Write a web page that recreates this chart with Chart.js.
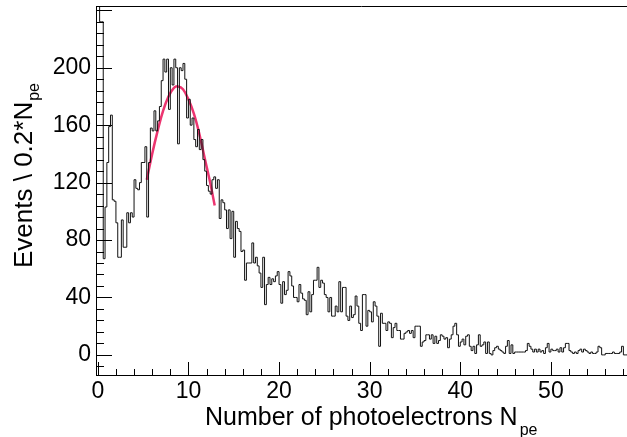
<!DOCTYPE html>
<html>
<head>
<meta charset="utf-8">
<script src="https://cdn.jsdelivr.net/npm/chart.js@4.4.1/dist/chart.umd.min.js"></script>
<style>
  html, body { margin: 0; padding: 0; background: #fff; }
</style>
</head>
<body>
<canvas id="grafico" width="627" height="437"></canvas>
<script>
// histograma: bins de 0.2 N_pe desde 0
const binWidth = 0.2;
const counts = [
  700, 232, 232, 67, 103, 134, 159, 167, 108, 107,
  92, 68, 68, 94, 75, 75, 99, 92, 99, 96,
  122, 116, 115, 120, 134, 134, 145, 96, 134, 158,
  156, 170, 156, 163, 173, 191, 206, 197, 206, 171,
  200, 188, 206, 200, 147, 200, 198, 203, 192, 165,
  178, 160, 165, 150, 145, 157, 143, 150, 136, 128,
  118, 114, 112, 122, 124, 116, 122, 95, 108, 106,
  101, 88, 101, 81, 100, 68, 93, 88, 86, 72,
  73, 52, 64, 64, 64, 78, 64, 68, 62, 57,
  47, 68, 35, 49, 54, 49, 53, 51, 55, 58,
  49, 36, 51, 42, 45, 58, 55, 48, 40, 40,
  37, 49, 43, 39, 38, 28, 44, 30, 42, 52,
  52, 61, 47, 52, 50, 42, 40, 30, 40, 27,
  27, 34, 30, 51, 30, 47, 47, 27, 24, 34,
  26, 28, 41, 34, 22, 17, 42, 42, 20, 31,
  30, 23, 37, 34, 27, 6, 29, 22, 22, 17,
  23, 22, 12, 19, 22, 17, 17, 11, 11, 15,
  16, 17, 15, 17, 12, 20, 20, 20, 6, 9,
  10, 14, 14, 11, 14, 8, 13, 8, 10, 14,
  13, 11, 12, 5, 11, 14, 20, 22, 14, 6,
  9, 11, 7, 13, 14, 6, 3, 6, 1, 7,
  14, 6, 7, 9, 1, 9, 1, 0, 3, 5,
  6, 4, 3, 2, 1, 6, 10, 1, 7, 1,
  2, 2, 2, 2, 2, 2, 3, 8, 6, 4,
  2, 4, 2, 4, 2, 3, 1, 5, 8, 2,
  4, 3, 3, 4, 2, 5, 2, 5, 8, 8,
  3, 2, 1, 2, 1, 3, 4, 2, 4, 3,
  2, 1, 2, 1, 1, 2, 6, 5, 0, 0,
  1, 1, 1, 1, 2, 1, 1, 1, 2, 6,
  0, 0
];

// ajuste gaussiano
const fitX = [5.4, 6.0, 6.6, 7.2, 7.8, 8.4, 8.85, 9.4, 10.0, 10.6, 11.2, 11.8, 12.4, 12.9];
const fitY = [122, 140, 156, 170, 180, 186, 187, 185, 178, 168, 154, 137, 120, 104];

const xTitle = 'Number of photoelectrons N';
const yTitle = 'Events \\ 0.2*N';
const subTitle = 'pe';

const fuente = "'Liberation Sans', Arial, sans-serif";

const puntosHist = counts.map((c, i) => ({ x: i * binWidth, y: c }));
puntosHist.push({ x: counts.length * binWidth, y: counts[counts.length - 1] });
const puntosFit = fitX.map((v, i) => ({ x: v, y: fitY[i] }));

// marco superior, ticks hacia adentro y titulos con subindice
const marcoPlugin = {
  id: 'marco',
  afterDraw(chart) {
    const { ctx, chartArea: a, scales } = chart;
    const x = scales.x, y = scales.y;
    ctx.save();
    ctx.strokeStyle = '#000';
    ctx.lineWidth = 1;
    ctx.beginPath();
    ctx.moveTo(a.left, Math.round(a.top) + 0.5);
    ctx.lineTo(a.right, Math.round(a.top) + 0.5);
    x.ticks.forEach(t => {
      if (Math.abs(t.value / 2 - Math.round(t.value / 2)) > 1e-6) return;
      const px = Math.round(x.getPixelForValue(t.value)) + 0.5;
      const len = t.value % 10 === 0 ? 13 : 6;
      ctx.moveTo(px, a.bottom);
      ctx.lineTo(px, a.bottom - len);
    });
    y.ticks.forEach(t => {
      if (Math.abs(t.value / 8 - Math.round(t.value / 8)) > 1e-6) return;
      const py = Math.round(y.getPixelForValue(t.value)) + 0.5;
      const len = t.value % 40 === 0 ? 16 : 8;
      ctx.moveTo(a.left, py);
      ctx.lineTo(a.left + len, py);
    });
    ctx.stroke();

    ctx.fillStyle = '#000';
    ctx.textBaseline = 'alphabetic';
    ctx.textAlign = 'left';

    // titulo eje x
    ctx.font = '25px ' + fuente;
    const wx = ctx.measureText(xTitle).width;
    ctx.fillText(xTitle, 205, 425);
    ctx.font = '16px ' + fuente;
    ctx.fillText(subTitle, 205 + wx + 2, 435);

    // titulo eje y
    ctx.translate(32, 268);
    ctx.rotate(-Math.PI / 2);
    ctx.font = '26px ' + fuente;
    const wy = ctx.measureText(yTitle).width;
    ctx.fillText(yTitle, 0, 0);
    ctx.font = '16px ' + fuente;
    ctx.fillText(subTitle, wy + 1, 7);
    ctx.restore();
  }
};

new Chart(document.getElementById('grafico'), {
  type: 'line',
  data: {
    datasets: [
      {
        label: 'Histograma',
        data: puntosHist,
        stepped: 'before',
        borderColor: '#111',
        borderWidth: 1,
        pointRadius: 0,
        fill: false
      },
      {
        label: 'Ajuste',
        data: puntosFit,
        borderColor: '#ec3570',
        borderWidth: 2.5,
        pointRadius: 0,
        tension: 0.4,
        fill: false
      }
    ]
  },
  options: {
    responsive: false,
    animation: false,
    devicePixelRatio: 1,
    layout: { padding: { top: 6, right: 0, left: 0, bottom: 0 } },
    plugins: {
      legend: { display: false },
      tooltip: { enabled: false }
    },
    scales: {
      x: {
        type: 'linear',
        min: -0.2,
        max: 58.4,
        afterFit: (s) => { s.height = 62; s.paddingLeft = 0; s.paddingRight = 0; },
        grid: { drawOnChartArea: false, drawTicks: false },
        border: { display: true, color: '#000', width: 1 },
        ticks: {
          stepSize: 2,
          includeBounds: false,
          autoSkip: false,
          maxRotation: 0,
          padding: 3,
          color: '#000',
          font: { family: fuente, size: 23 },
          callback: (v) => (v % 10 === 0 ? String(v) : '')
        }
      },
      y: {
        type: 'linear',
        min: -14,
        max: 243,
        afterFit: (s) => { s.width = 96; s.paddingTop = 0; s.paddingBottom = 0; },
        grid: { drawOnChartArea: false, drawTicks: false },
        border: { display: true, color: '#000', width: 1 },
        ticks: {
          stepSize: 8,
          includeBounds: false,
          autoSkip: false,
          padding: 5,
          color: '#000',
          font: { family: fuente, size: 23 },
          callback: (v) => (v % 40 === 0 && v >= 0 && v <= 200 ? String(v) : '')
        }
      }
    }
  },
  plugins: [marcoPlugin]
});
</script>
</body>
</html>
